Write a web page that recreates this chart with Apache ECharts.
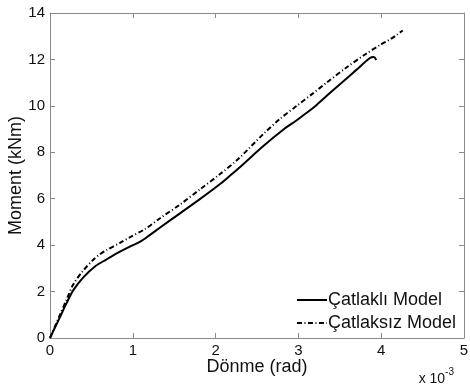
<!DOCTYPE html>
<html>
<head>
<meta charset="utf-8">
<script src="https://cdn.jsdelivr.net/npm/echarts@6/dist/echarts.min.js"></script>
<style>
  html, body { margin: 0; padding: 0; background: #fff; }
  #chart { width: 470px; height: 390px; }
</style>
</head>
<body>
<div id="chart"></div>
<script>
// Rotation in units of 1e-3 rad, moment in kNm
const seriesNames = ['Çatlaklı Model', 'Çatlaksız Model'];

const crackedRotation = [0, 0.06, 0.12, 0.2, 0.28, 0.4, 0.55, 0.68, 0.845, 0.97, 1.09, 1.2, 1.33, 1.57, 1.81, 2.05, 2.17, 2.3, 2.58, 2.82, 2.98, 3.1, 3.22, 3.38, 3.54, 3.7, 3.86, 3.91, 3.94];
const crackedMoment   = [0, 0.45, 0.9, 1.5, 2.05, 2.6, 3.1, 3.38, 3.72, 3.95, 4.15, 4.42, 4.76, 5.37, 5.98, 6.62, 6.98, 7.38, 8.28, 8.98, 9.38, 9.7, 10.04, 10.55, 11.05, 11.55, 12.05, 12.1, 11.98];

const uncrackedRotation = [0, 0.06, 0.12, 0.2, 0.28, 0.4, 0.52, 0.6, 0.68, 0.845, 0.97, 1.15, 1.33, 1.57, 1.81, 2.05, 2.27, 2.58, 2.78, 2.98, 3.18, 3.34, 3.58, 3.8, 3.99, 4.1, 4.19, 4.26];
const uncrackedMoment   = [0, 0.5, 1.0, 1.65, 2.3, 2.9, 3.36, 3.6, 3.78, 4.1, 4.35, 4.7, 5.16, 5.75, 6.4, 7.05, 7.7, 8.8, 9.45, 10.0, 10.55, 11.0, 11.65, 12.2, 12.63, 12.85, 13.06, 13.25];

const xTicks = [0, 1, 2, 3, 4, 5];
const yTicks = [0, 2, 4, 6, 8, 10, 12, 14];

const pairs = (xs, ys) => xs.map((x, i) => [x, ys[i]]);

const FONT = 'Liberation Sans, Arial, sans-serif';
const AXIS_COLOR = '#8a8a8a';
const TEXT_COLOR = '#111';

const chart = echarts.init(document.getElementById('chart'), null, { renderer: 'canvas' });

const xCommon = {
  type: 'value',
  min: xTicks[0],
  max: xTicks[xTicks.length - 1],
  interval: 1,
  axisLine: { show: true, onZero: false, lineStyle: { color: AXIS_COLOR, width: 1 } },
  axisTick: { show: true, inside: true, length: 5, lineStyle: { color: AXIS_COLOR } },
  splitLine: { show: false }
};
const yCommon = {
  type: 'value',
  min: yTicks[0],
  max: yTicks[yTicks.length - 1],
  interval: 2,
  axisLine: { show: true, onZero: false, lineStyle: { color: AXIS_COLOR, width: 1 } },
  axisTick: { show: true, inside: true, length: 5, lineStyle: { color: AXIS_COLOR } },
  splitLine: { show: false }
};

chart.setOption({
  animation: false,
  backgroundColor: '#fff',
  textStyle: { fontFamily: FONT },
  grid: { left: 50, right: 6, top: 13, bottom: 52, containLabel: false, outerBoundsMode: 'none' },
  xAxis: [
    Object.assign({}, xCommon, {
      position: 'bottom',
      name: 'Dönme (rad)',
      nameLocation: 'middle',
      nameGap: 20,
      nameMoveOverlap: false,
      nameTextStyle: { fontSize: 18, color: TEXT_COLOR, fontFamily: FONT },
      axisLabel: { show: true, fontSize: 15, color: TEXT_COLOR, margin: 5, fontFamily: FONT }
    }),
    Object.assign({}, xCommon, { position: 'top', axisLabel: { show: false } })
  ],
  yAxis: [
    Object.assign({}, yCommon, {
      position: 'left',
      name: 'Moment (kNm)',
      nameLocation: 'middle',
      nameGap: 25,
      nameMoveOverlap: false,
      nameRotate: 90,
      nameTextStyle: { fontSize: 18, color: TEXT_COLOR, fontFamily: FONT },
      axisLabel: { show: true, fontSize: 15, color: TEXT_COLOR, margin: 5, fontFamily: FONT }
    }),
    Object.assign({}, yCommon, { position: 'right', axisLabel: { show: false } })
  ],
  legend: {
    orient: 'vertical',
    right: 9,
    bottom: 53,
    itemWidth: 30,
    itemHeight: 10,
    itemGap: 5,
    itemStyle: { opacity: 0 },
    textStyle: { fontSize: 18, color: TEXT_COLOR, fontFamily: FONT, padding: [0, 0, 0, -4] },
    data: seriesNames
  },
  graphic: [{
    type: 'text',
    right: 16,
    bottom: 4,
    style: {
      text: '{b|x 10}{s|-3}',
      rich: {
        b: { fontSize: 14, fill: TEXT_COLOR, fontFamily: FONT, verticalAlign: 'bottom' },
        s: { fontSize: 10, fill: TEXT_COLOR, fontFamily: FONT, verticalAlign: 'top', padding: [0, 0, 9, 0] }
      }
    }
  }],
  series: [
    {
      name: seriesNames[0],
      type: 'line',
      data: pairs(crackedRotation, crackedMoment),
      smooth: 0.3,
      showSymbol: false,
      symbol: 'none',
      lineStyle: { color: '#000', width: 2 },
      itemStyle: { color: '#000' }
    },
    {
      name: seriesNames[1],
      type: 'line',
      data: pairs(uncrackedRotation, uncrackedMoment),
      smooth: 0.3,
      showSymbol: false,
      symbol: 'none',
      lineStyle: { color: '#000', width: 2, type: [5, 2.5, 1, 2.5] },
      itemStyle: { color: '#000' }
    }
  ]
});
</script>
</body>
</html>
